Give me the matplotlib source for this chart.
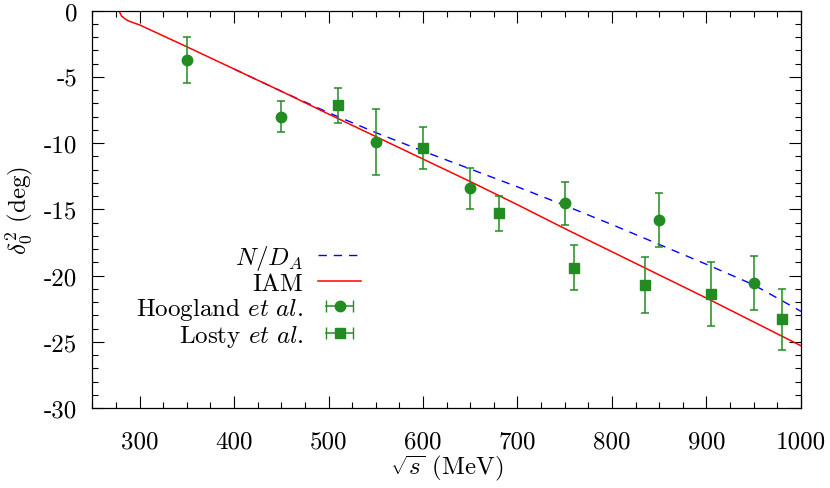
import numpy as np
import matplotlib
matplotlib.use("Agg")
import matplotlib.pyplot as plt
from matplotlib.lines import Line2D
from matplotlib.legend_handler import HandlerLine2D, HandlerTuple

# IAM curve
iam_x = [278.5, 279.5, 281, 284, 288, 294, 300, 350, 400, 450, 500, 550, 600,
         650, 700, 750, 800, 850, 900, 950, 1000]
iam_y = [0.0, -0.2, -0.4, -0.58, -0.76, -0.92, -1.07, -2.72, -4.4, -6.08, -7.8,
         -9.5, -11.2, -12.9, -14.65, -16.45, -18.2, -19.95, -21.7, -23.5, -25.3]

# N/D_A curve
nd_x = [400, 450, 500, 550, 600, 650, 700, 750, 800, 850, 900, 950, 1000]
nd_y = [-4.4, -6.08, -7.7, -9.2, -10.6, -11.95, -13.3, -14.7, -16.15, -17.65,
        -19.15, -20.7, -22.7]

# Hoogland et al.
hoog_x = [350, 450, 550, 650, 750, 850, 950]
hoog_y = [-3.75, -8.0, -9.9, -13.4, -14.55, -15.8, -20.55]
hoog_err = [1.73, 1.15, 2.5, 1.55, 1.6, 2.05, 2.05]

# Losty et al.
losty_x = [510, 600, 680, 760, 835, 905, 980]
losty_y = [-7.15, -10.37, -15.3, -19.4, -20.7, -21.4, -23.3]
losty_err = [1.3, 1.6, 1.3, 1.7, 2.1, 2.4, 2.3]

green = "#228B22"

plt.rcParams["font.family"] = "serif"
plt.rcParams["font.serif"] = ["cmr10"]
plt.rcParams["mathtext.fontset"] = "cm"
plt.rcParams["axes.unicode_minus"] = False
plt.rcParams["font.size"] = 18

fig = plt.figure(figsize=(8.3, 4.89), dpi=100)
ax = fig.add_axes([0.1112, 0.1636, 0.8538, 0.8124])

ax.plot(nd_x, nd_y, color="#0000ff", lw=1.0, dashes=(6, 5))
ax.plot(iam_x, iam_y, color="#ff0000", lw=1.1)
ax.errorbar(hoog_x, hoog_y, yerr=hoog_err, fmt="o", color=green, ms=7.5,
            elinewidth=1.1, capsize=2.8, capthick=1.1)
ax.errorbar(losty_x, losty_y, yerr=losty_err, fmt="s", color=green, ms=7.5,
            elinewidth=1.1, capsize=2.8, capthick=1.1)

ax.set_xlim(250, 1000)
ax.set_ylim(-30, 0)
ax.set_xticks(np.arange(300, 1001, 100))
ax.set_yticks(np.arange(-30, 1, 5))
ax.set_xticks(np.arange(250, 1001, 25), minor=True)
ax.set_yticks(np.arange(-30, 1, 1), minor=True)
ax.tick_params(which="both", direction="in", top=True, right=True, width=0.8)
ax.tick_params(which="major", length=8.5)
ax.tick_params(which="minor", length=4)
ax.tick_params(axis="y", pad=11)
ax.tick_params(axis="x", pad=16)
for s in ax.spines.values():
    s.set_linewidth(0.9)

ax.set_xlabel(r"$\sqrt{s}$ (MeV)", labelpad=0)
ax.set_ylabel(r"$\delta_0^2$ (deg)", labelpad=6)

# legend proxies (gnuplot style: horizontal bar with caps)
nd_h = Line2D([], [], color="#0000ff", lw=1.0, dashes=(6, 5))
iam_h = Line2D([], [], color="#ff0000", lw=1.1)
cap1 = Line2D([], [], color=green, lw=1.1, marker="|", ms=9)
dot1 = Line2D([], [], color=green, ls="none", marker="o", ms=7.5)
cap2 = Line2D([], [], color=green, lw=1.1, marker="|", ms=9)
dot2 = Line2D([], [], color=green, ls="none", marker="s", ms=7.5)
hmap = {cap1: HandlerLine2D(numpoints=2), cap2: HandlerLine2D(numpoints=2),
        dot1: HandlerLine2D(numpoints=1), dot2: HandlerLine2D(numpoints=1),
        tuple: HandlerTuple(ndivide=1)}
ax.legend([nd_h, iam_h, (cap1, dot1), (cap2, dot2)],
          [r"$N/D_A$", "IAM", r"Hoogland $et\ al.$", r"Losty $et\ al.$"],
          handler_map=hmap, markerfirst=False, frameon=False,
          loc="upper right", bbox_to_anchor=(0.379, 0.416), borderpad=0,
          borderaxespad=0, handlelength=1.7, handletextpad=0.6,
          labelspacing=0.02, fontsize=18)

fig.savefig("out.png", dpi=100)
